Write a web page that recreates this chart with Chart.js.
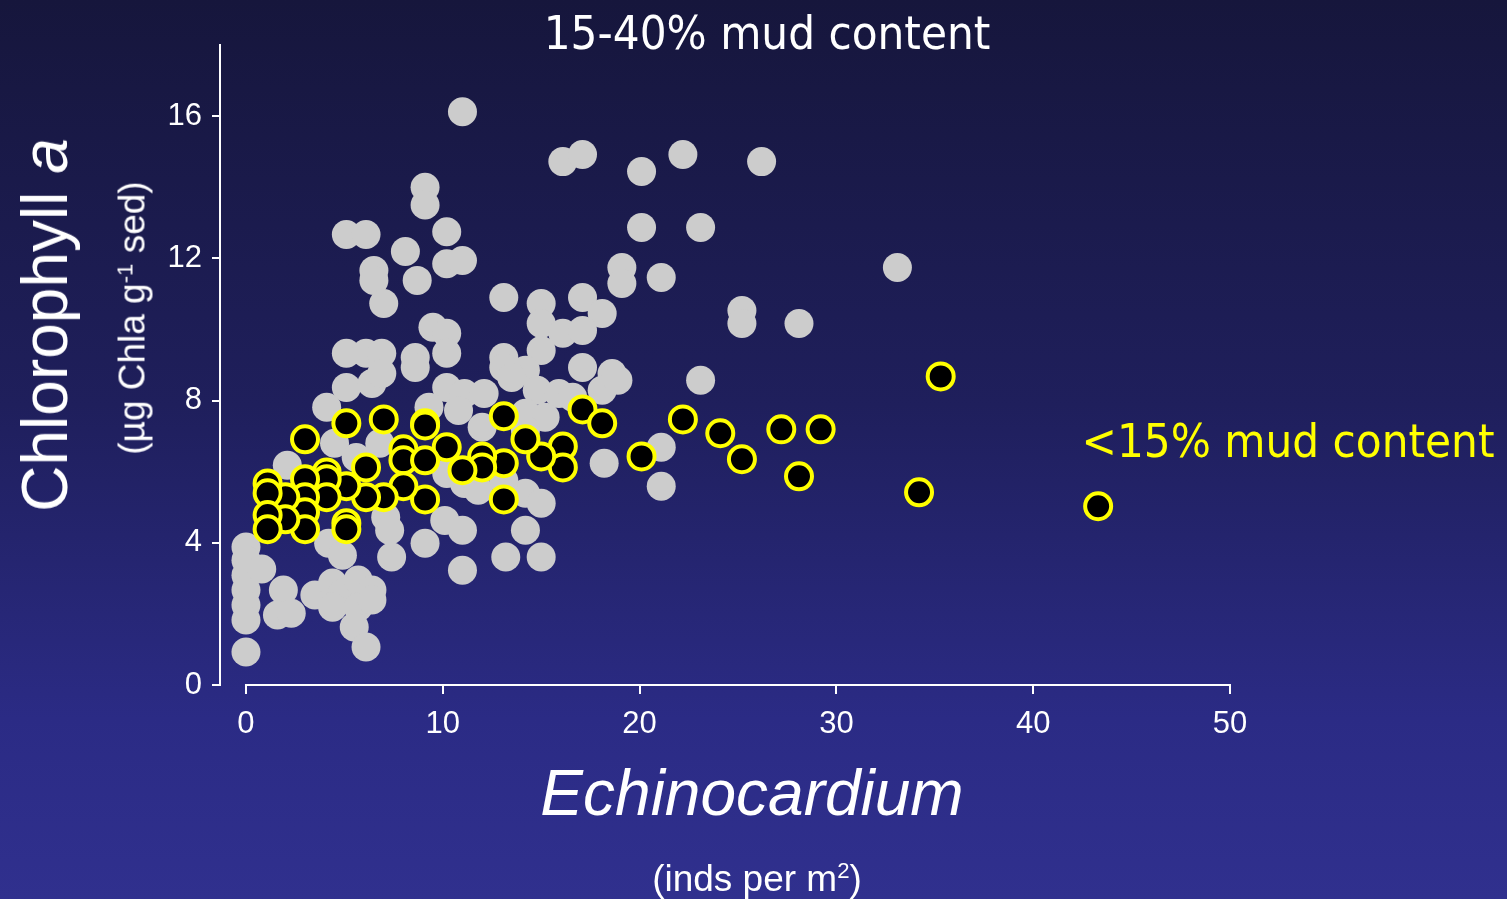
<!DOCTYPE html>
<html>
<head>
<meta charset="utf-8">
<script src="https://cdn.jsdelivr.net/npm/chart.js@4/dist/chart.umd.min.js"></script>
<style>
  html, body { margin: 0; padding: 0; overflow: hidden; }
  #wrap {
    position: relative; width: 1507px; height: 899px;
    background: linear-gradient(to bottom, #16163c 0%, #1f1f5c 45%, #2b2b85 80%, #30308e 100%);
    font-family: "Liberation Sans", Arial, sans-serif; color: #fff;
  }
  #chart { position: absolute; left: 0; top: 0; }
  .lbl { position: absolute; white-space: nowrap; line-height: 1; }
  .center { transform: translate(-50%, -50%); }
  .rot { transform: translate(-50%, -50%) rotate(-90deg); }
  sup { font-size: 60%; vertical-align: 0.55em; line-height: 0; }
</style>
</head>
<body>
<div id="wrap">
  <canvas id="chart" width="1507" height="899"></canvas>
  <div class="lbl center" style="left:767px; top:32px; font-family:'DejaVu Sans Condensed','DejaVu Sans',sans-serif; font-size:47px;">15-40% mud content</div>
  <div class="lbl center" style="left:1288px; top:440px; font-family:'DejaVu Sans Condensed','DejaVu Sans',sans-serif; font-size:47px; color:#ffff00;">&lt;15% mud content</div>
  <div class="lbl rot" style="left:45px; top:325px; font-size:64px;">Chlorophyll <i>a</i></div>
  <div class="lbl rot" style="left:132px; top:318px; font-size:37px;">(µg Chla g<sup>-1</sup> sed)</div>
  <div class="lbl center" style="left:752px; top:793px; font-size:64px; font-style:italic;">Echinocardium</div>
  <div class="lbl center" style="left:757px; top:878px; font-size:37px;">(inds per m<sup>2</sup>)</div>
</div>
<script>
// Echinocardium density (inds per m²) vs sediment chlorophyll a (µg Chla g⁻¹ sed)

// Sites with 15-40% mud content
const muddyX = [
  11.0, 16.1, 17.1, 20.1, 22.2, 26.2, 9.1, 9.1, 5.1, 6.1, 10.2, 20.1, 23.1, 8.1, 10.2, 11.0,
  6.5, 6.5, 8.7, 19.1, 19.1, 21.1, 33.1, 7.0, 13.1, 15.0, 17.1, 18.1, 25.2, 25.2, 28.1, 15.0,
  16.1, 17.1, 9.5, 10.2, 5.1, 6.1, 6.9, 8.6, 8.6, 10.2, 13.1, 13.1, 15.0, 17.1, 18.6, 23.1,
  14.2, 10.2, 5.1, 6.4, 6.9, 4.1, 11.1, 12.1, 9.3, 13.5, 14.8, 15.9, 16.6, 18.1, 18.9, 10.8,
  14.2, 15.2, 12.0, 14.2, 18.2, 21.1, 21.1, 11.1, 11.8, 14.2, 15.0, 10.1, 11.0, 9.1, 14.2, 13.2,
  15.0, 11.0, 2.1, 4.5, 6.8, 5.6, 7.1, 7.3, 4.2, 4.9, 7.4, 0, 0, 0, 0, 0,
  0, 0, 0.8, 1.9, 1.6, 2.3, 3.5, 4.4, 4.9, 5.7, 6.4, 4.4, 5.7, 6.4, 5.5, 6.1,
  10.2, 13.1
];
const muddyChl = [
  16.12, 14.72, 14.92, 14.44, 14.92, 14.72, 14.0, 13.5, 12.67, 12.67, 12.75, 12.87, 12.87, 12.19, 11.85, 11.94,
  11.66, 11.38, 11.38, 11.74, 11.29, 11.46, 11.74, 10.73, 10.9, 10.73, 10.9, 10.45, 10.53, 10.17, 10.17, 10.17,
  9.89, 9.97, 10.06, 9.89, 9.33, 9.33, 9.33, 9.21, 8.93, 9.33, 9.21, 8.93, 9.41, 8.93, 8.76, 8.57,
  8.85, 8.37, 8.37, 8.48, 8.76, 7.81, 8.2, 8.2, 7.81, 8.65, 8.29, 8.2, 8.09, 8.29, 8.57, 7.72,
  7.64, 7.53, 7.25, 7.16, 6.24, 6.69, 5.59, 5.67, 5.48, 5.39, 5.11, 4.63, 4.35, 3.99, 4.35, 3.6,
  3.6, 3.23, 6.18, 6.8, 6.8, 6.4, 4.72, 4.35, 3.99, 3.65, 3.6, 3.88, 3.51, 3.09, 2.67, 2.25,
  1.83, 0.93, 3.26, 2.67, 1.97, 2.02, 2.53, 2.87, 2.58, 2.95, 2.67, 2.19, 2.19, 2.39, 1.63, 1.07,
  5.95, 5.75
];

// Sites with <15% mud content
const sandyX = [
  3.0, 5.1, 7.0, 9.1, 9.1, 13.1, 17.1, 18.1, 22.2, 24.1, 27.2, 29.2, 35.3, 43.3, 34.2, 28.1,
  25.2, 20.1, 16.1, 16.1, 15.0, 14.2, 13.1, 12.0, 12.0, 11.0, 10.2, 13.1, 8.0, 8.0, 9.1, 9.1,
  8.0, 7.0, 6.1, 6.1, 5.1, 5.1, 5.1, 4.1, 4.1, 4.1, 3.0, 3.0, 3.0, 3.0, 2.0, 2.0,
  1.1, 1.1, 1.1, 1.1
];
const sandyChl = [
  6.91, 7.36, 7.47, 7.36, 7.3, 7.56, 7.75, 7.36, 7.47, 7.08, 7.19, 7.19, 8.68, 5.03, 5.42, 5.87,
  6.35, 6.43, 6.71, 6.12, 6.43, 6.91, 6.24, 6.43, 6.12, 6.04, 6.69, 5.22, 6.63, 6.32, 6.32, 5.22,
  5.59, 5.28, 6.12, 5.28, 5.59, 4.55, 4.38, 5.98, 5.79, 5.28, 5.79, 5.28, 4.86, 4.38, 5.28, 4.66,
  5.67, 5.39, 4.78, 4.38
];

const xTicks = [0, 10, 20, 30, 40, 50];
const yTicks = [0, 4, 8, 12, 16];

const pairs = (xs, ys) => xs.map((x, i) => ({ x: x, y: ys[i] }));

// x axis line runs only across the labelled range (0-50), detached from the y axis
const xAxisLine = {
  id: 'xAxisLine',
  afterDraw(chart) {
    const xs = chart.scales.x, ys = chart.scales.y, ctx = chart.ctx;
    const y0 = Math.round(ys.getPixelForValue(0));
    ctx.save();
    ctx.strokeStyle = '#ffffff';
    ctx.lineWidth = 2;
    ctx.beginPath();
    ctx.moveTo(xs.getPixelForValue(xTicks[0]) - 1, y0);
    ctx.lineTo(xs.getPixelForValue(xTicks[xTicks.length - 1]) + 1, y0);
    ctx.stroke();
    ctx.restore();
  }
};

const tickFont = { family: "'Liberation Sans', Arial, sans-serif", size: 31 };

new Chart(document.getElementById('chart'), {
  type: 'scatter',
  data: {
    datasets: [
      {
        label: '<15% mud content',
        data: pairs(sandyX, sandyChl),
        backgroundColor: '#000000',
        borderColor: '#ffff00',
        borderWidth: 4,
        pointRadius: 13,
        order: 1
      },
      {
        label: '15-40% mud content',
        data: pairs(muddyX, muddyChl),
        backgroundColor: '#cccccc',
        borderWidth: 0,
        pointRadius: 14.5,
        order: 2
      }
    ]
  },
  options: {
    responsive: false,
    animation: false,
    clip: false,
    layout: { padding: { left: 0, top: 45, right: 277, bottom: 0 } },
    plugins: { legend: { display: false }, tooltip: { enabled: false } },
    scales: {
      x: {
        type: 'linear',
        min: -1.32,
        max: 50,
        afterBuildTicks: s => { s.ticks = xTicks.map(v => ({ value: v })); },
        afterFit: s => { s.height = 214; },
        grid: { drawOnChartArea: false, drawTicks: true, tickLength: 9, color: '#ffffff', lineWidth: 2 },
        border: { display: false },
        ticks: { color: '#ffffff', font: tickFont, padding: 12 }
      },
      y: {
        min: 0,
        max: 18,
        afterBuildTicks: s => { s.ticks = yTicks.map(v => ({ value: v })); },
        afterFit: s => { s.width = 220; },
        grid: { drawOnChartArea: false, drawTicks: true, tickLength: 8, color: '#ffffff', lineWidth: 2 },
        border: { display: true, color: '#ffffff', width: 2 },
        ticks: { color: '#ffffff', font: tickFont, padding: 10 }
      }
    }
  },
  plugins: [xAxisLine]
});
</script>
</body>
</html>
